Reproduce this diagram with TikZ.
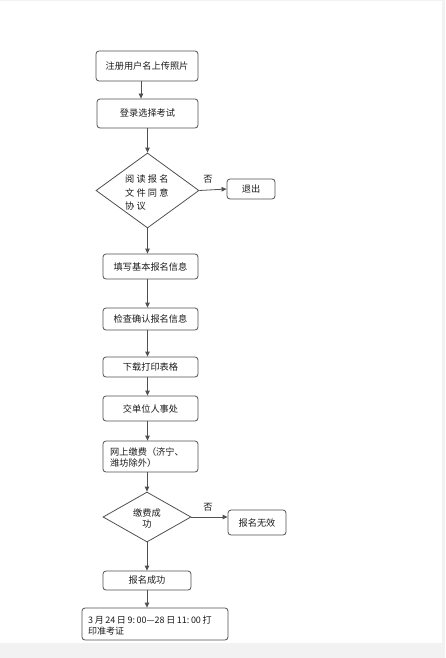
\documentclass[tikz,border=0pt]{standalone}
\usepackage{fontspec}
\setmainfont{Noto Sans CJK SC}
\usetikzlibrary{shapes.geometric,arrows.meta}
\definecolor{edge}{HTML}{505050}
\definecolor{txt}{HTML}{1A1A1A}
\definecolor{strip}{HTML}{F2F2F2}
\newcommand{\gapch}{\hspace{2.2pt}}
\newcommand{\gapnum}{\hspace{1.6pt}}
\begin{document}
\begin{tikzpicture}[x=1pt,y=-1pt,
  every node/.style={font=\fontsize{9.2}{11}\selectfont, text=txt},
  stepbox/.style={draw=edge, line width=0.8pt, rounded corners=3pt, inner sep=0pt, align=center},
  dia/.style={draw=edge, line width=0.8pt, shape=diamond, inner sep=0pt},
  arr/.style={draw=edge, line width=0.8pt, -{Triangle[length=5pt,width=4.5pt]}},
  lbl/.style={inner sep=0pt},
  diatxt/.style={inner sep=0pt, anchor=west}]
\useasboundingbox (0,0) rectangle (445,658);
\fill[strip] (0,643) rectangle (445,658);
\fill[strip] (442,0) rectangle (445,643);
\fill[strip] (0,0) rectangle (442,1);
\coordinate (c1) at (141,0);
\coordinate (c2) at (147.5,0);
\node[stepbox, minimum width=102, minimum height=30] (b1) at (147,66) {注册用户名上传照片};
\node[stepbox, minimum width=101, minimum height=29] (b2) at (147.5,113.5) {登录选择考试};
\node[dia, minimum width=103, minimum height=75] (d1) at (147.5,190.5) {};
\node[diatxt] (t1a) at (125,179) {阅\gapch 读\gapch 报\gapch 名};
\node[diatxt] (t1b) at (125,193) {文\gapch 件\gapch 同\gapch 意};
\node[diatxt] (t1c) at (125,206) {协\gapch 议};
\node[stepbox, minimum width=48, minimum height=20] (ex) at (251,189) {退出};
\node[lbl] (n1) at (208,179) {否};
\node[stepbox, minimum width=95, minimum height=25] (b3) at (150.5,266.5) {填写基本报名信息};
\node[stepbox, minimum width=95, minimum height=22] (b4) at (150.5,319) {检查确认报名信息};
\node[stepbox, minimum width=95, minimum height=20] (b5) at (150.5,367) {下载打印表格};
\node[stepbox, minimum width=95, minimum height=25] (b6) at (150.5,408.5) {交单位人事处};
\node[stepbox, minimum width=95, minimum height=31] (b7) at (150.5,456.5) {};
\node[lbl, anchor=west, align=left, font=\fontsize{9.2}{11.5}\selectfont] (t7) at (110,457.5) {网上缴费（济宁、\\潍坊除外）};
\node[dia, minimum width=88, minimum height=50] (d2) at (147,517) {};
\node[lbl, align=center, font=\fontsize{9.2}{11.5}\selectfont] (t2) at (147,518.5) {缴费成\\功};
\node[lbl] (n2) at (208,507) {否};
\node[stepbox, minimum width=58, minimum height=25] (bad) at (257,522.5) {报名无效};
\node[stepbox, minimum width=88, minimum height=19] (b9) at (147,580.5) {报名成功};
\node[stepbox, minimum width=146, minimum height=32] (b10) at (155,624) {};
\node[lbl, anchor=west, align=left, font=\fontsize{9}{11}\selectfont] (t10) at (88,626) {3\gapnum 月\gapnum 24\gapnum 日\gapnum 9:\gapnum 00—28\gapnum 日\gapnum 11:\gapnum 00\gapnum 打\\印准考证};
\draw[arr] (b1.south -| c1) -- (b2.north -| c1);
\draw[arr] (b2.south -| c2) -- (d1.north);
\draw[arr] (d1.east) -- (ex.west);
\draw[arr] (d1.south) -- (b3.north -| d1.south);
\draw[arr] (b3.south -| c2) -- (b4.north -| c2);
\draw[arr] (b4.south -| c2) -- (b5.north -| c2);
\draw[arr] (b5.south -| c2) -- (b6.north -| c2);
\draw[arr] (b6.south -| c2) -- (b7.north -| c2);
\draw[arr] (b7.south -| d2.north) -- (d2.north);
\draw[arr] (d2.east) -- (d2.east -| bad.west);
\draw[arr] (d2.south) -- (b9.north);
\draw[arr] (b9.south) -- (b10.north -| b9.south);
\end{tikzpicture}
\end{document}
